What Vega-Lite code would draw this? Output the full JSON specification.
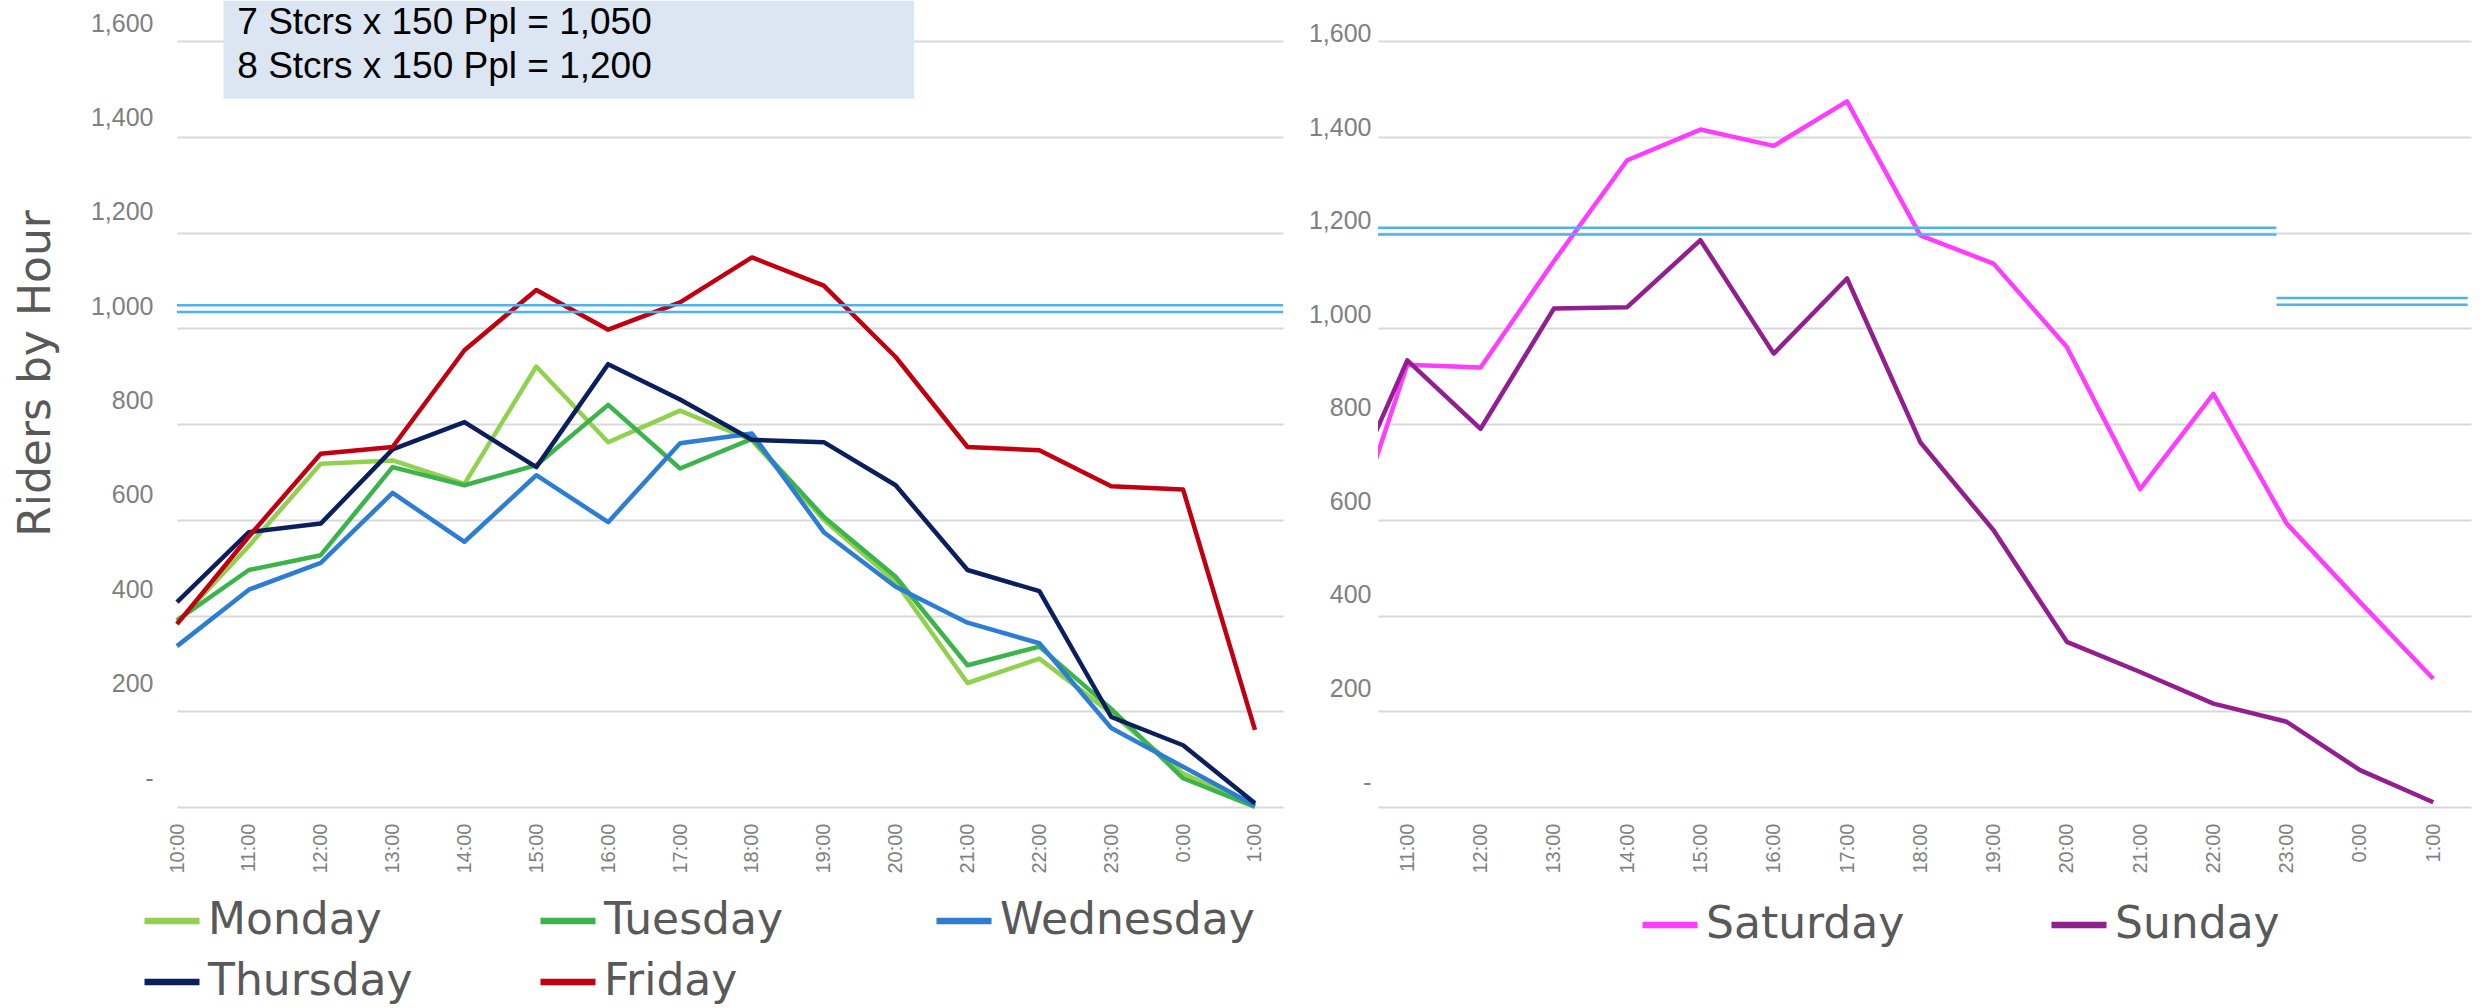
{
  "$schema": "https://vega.github.io/schema/vega-lite/v6.json",
  "padding": {"left": 14, "top": 0, "right": 5, "bottom": 0},
  "background": "white",
  "bounds": "flush",
  "spacing": 95,
  "resolve": {"scale": {"color": "independent", "x": "independent", "y": "independent"}},
  "config": {
    "view": {"stroke": null},
    "axisX": {
      "labelAngle": 270,
      "labelAlign": "right",
      "labelBaseline": "middle",
      "labelPadding": 16,
      "labelFont": "Liberation Sans",
      "labelFontSize": 20,
      "labelColor": "#808080",
      "labelOverlap": false,
      "labelFlush": false,
      "labelBound": false,
      "grid": false,
      "ticks": false,
      "domain": false,
      "title": null
    },
    "axisY": {
      "labelFont": "Liberation Sans",
      "labelFontSize": 25,
      "labelColor": "#808080",
      "labelFlush": false,
      "labelOverlap": false,
      "ticks": false,
      "domain": false,
      "grid": true,
      "gridColor": "#D9D9D9",
      "gridWidth": 2
    }
  },
  "datasets": {
    "weekday": [
      {"day": "Monday", "hour": 10, "riders": 385}, {"day": "Monday", "hour": 11, "riders": 545}, {"day": "Monday", "hour": 12, "riders": 717}, {"day": "Monday", "hour": 13, "riders": 724},
      {"day": "Monday", "hour": 14, "riders": 675}, {"day": "Monday", "hour": 15, "riders": 920}, {"day": "Monday", "hour": 16, "riders": 762}, {"day": "Monday", "hour": 17, "riders": 828},
      {"day": "Monday", "hour": 18, "riders": 766}, {"day": "Monday", "hour": 19, "riders": 600}, {"day": "Monday", "hour": 20, "riders": 470}, {"day": "Monday", "hour": 21, "riders": 259},
      {"day": "Monday", "hour": 22, "riders": 310}, {"day": "Monday", "hour": 23, "riders": 196}, {"day": "Monday", "hour": 24, "riders": 70}, {"day": "Monday", "hour": 25, "riders": 2},
      {"day": "Tuesday", "hour": 10, "riders": 390}, {"day": "Tuesday", "hour": 11, "riders": 495}, {"day": "Tuesday", "hour": 12, "riders": 526}, {"day": "Tuesday", "hour": 13, "riders": 710},
      {"day": "Tuesday", "hour": 14, "riders": 672}, {"day": "Tuesday", "hour": 15, "riders": 714}, {"day": "Tuesday", "hour": 16, "riders": 840}, {"day": "Tuesday", "hour": 17, "riders": 707},
      {"day": "Tuesday", "hour": 18, "riders": 769}, {"day": "Tuesday", "hour": 19, "riders": 606}, {"day": "Tuesday", "hour": 20, "riders": 481}, {"day": "Tuesday", "hour": 21, "riders": 296},
      {"day": "Tuesday", "hour": 22, "riders": 335}, {"day": "Tuesday", "hour": 23, "riders": 205}, {"day": "Tuesday", "hour": 24, "riders": 60}, {"day": "Tuesday", "hour": 25, "riders": 0},
      {"day": "Wednesday", "hour": 10, "riders": 336}, {"day": "Wednesday", "hour": 11, "riders": 454}, {"day": "Wednesday", "hour": 12, "riders": 510}, {"day": "Wednesday", "hour": 13, "riders": 656},
      {"day": "Wednesday", "hour": 14, "riders": 554}, {"day": "Wednesday", "hour": 15, "riders": 693}, {"day": "Wednesday", "hour": 16, "riders": 595}, {"day": "Wednesday", "hour": 17, "riders": 760},
      {"day": "Wednesday", "hour": 18, "riders": 780}, {"day": "Wednesday", "hour": 19, "riders": 574}, {"day": "Wednesday", "hour": 20, "riders": 460}, {"day": "Wednesday", "hour": 21, "riders": 385},
      {"day": "Wednesday", "hour": 22, "riders": 342}, {"day": "Wednesday", "hour": 23, "riders": 165}, {"day": "Wednesday", "hour": 24, "riders": 84}, {"day": "Wednesday", "hour": 25, "riders": 3},
      {"day": "Thursday", "hour": 10, "riders": 428}, {"day": "Thursday", "hour": 11, "riders": 574}, {"day": "Thursday", "hour": 12, "riders": 592}, {"day": "Thursday", "hour": 13, "riders": 747},
      {"day": "Thursday", "hour": 14, "riders": 804}, {"day": "Thursday", "hour": 15, "riders": 710}, {"day": "Thursday", "hour": 16, "riders": 925}, {"day": "Thursday", "hour": 17, "riders": 851},
      {"day": "Thursday", "hour": 18, "riders": 767}, {"day": "Thursday", "hour": 19, "riders": 762}, {"day": "Thursday", "hour": 20, "riders": 672}, {"day": "Thursday", "hour": 21, "riders": 495},
      {"day": "Thursday", "hour": 22, "riders": 451}, {"day": "Thursday", "hour": 23, "riders": 188}, {"day": "Thursday", "hour": 24, "riders": 129}, {"day": "Thursday", "hour": 25, "riders": 8},
      {"day": "Friday", "hour": 10, "riders": 382}, {"day": "Friday", "hour": 11, "riders": 565}, {"day": "Friday", "hour": 12, "riders": 738}, {"day": "Friday", "hour": 13, "riders": 752},
      {"day": "Friday", "hour": 14, "riders": 954}, {"day": "Friday", "hour": 15, "riders": 1080}, {"day": "Friday", "hour": 16, "riders": 997}, {"day": "Friday", "hour": 17, "riders": 1054},
      {"day": "Friday", "hour": 18, "riders": 1148}, {"day": "Friday", "hour": 19, "riders": 1089}, {"day": "Friday", "hour": 20, "riders": 940}, {"day": "Friday", "hour": 21, "riders": 752},
      {"day": "Friday", "hour": 22, "riders": 745}, {"day": "Friday", "hour": 23, "riders": 670}, {"day": "Friday", "hour": 24, "riders": 663}, {"day": "Friday", "hour": 25, "riders": 161}
    ],
    "weekend": [
      {"day": "Saturday", "hour": 10, "riders": 463}, {"day": "Saturday", "hour": 11, "riders": 924}, {"day": "Saturday", "hour": 12, "riders": 918}, {"day": "Saturday", "hour": 13, "riders": 1140},
      {"day": "Saturday", "hour": 14, "riders": 1351}, {"day": "Saturday", "hour": 15, "riders": 1415}, {"day": "Saturday", "hour": 16, "riders": 1381}, {"day": "Saturday", "hour": 17, "riders": 1474},
      {"day": "Saturday", "hour": 18, "riders": 1194}, {"day": "Saturday", "hour": 19, "riders": 1135}, {"day": "Saturday", "hour": 20, "riders": 961}, {"day": "Saturday", "hour": 21, "riders": 664},
      {"day": "Saturday", "hour": 22, "riders": 863}, {"day": "Saturday", "hour": 23, "riders": 592}, {"day": "Saturday", "hour": 24, "riders": 428}, {"day": "Saturday", "hour": 25, "riders": 268},
      {"day": "Sunday", "hour": 10, "riders": 585}, {"day": "Sunday", "hour": 11, "riders": 933}, {"day": "Sunday", "hour": 12, "riders": 790}, {"day": "Sunday", "hour": 13, "riders": 1041},
      {"day": "Sunday", "hour": 14, "riders": 1044}, {"day": "Sunday", "hour": 15, "riders": 1184}, {"day": "Sunday", "hour": 16, "riders": 947}, {"day": "Sunday", "hour": 17, "riders": 1104},
      {"day": "Sunday", "hour": 18, "riders": 762}, {"day": "Sunday", "hour": 19, "riders": 578}, {"day": "Sunday", "hour": 20, "riders": 345}, {"day": "Sunday", "hour": 21, "riders": 282},
      {"day": "Sunday", "hour": 22, "riders": 216}, {"day": "Sunday", "hour": 23, "riders": 178}, {"day": "Sunday", "hour": 24, "riders": 77}, {"day": "Sunday", "hour": 25, "riders": 10}
    ],
    "capacityWeekday": [
      {"from": 10, "to": 25.39, "riders": 1048},
      {"from": 10, "to": 25.39, "riders": 1034}
    ],
    "capacityWeekend": [
      {"from": 10.6, "to": 22.86, "riders": 1210},
      {"from": 10.6, "to": 22.86, "riders": 1196},
      {"from": 22.86, "to": 25.47, "riders": 1063},
      {"from": 22.86, "to": 25.47, "riders": 1049}
    ]
  },
  "hconcat": [
    {
      "width": 1106,
      "height": 766,
      "layer": [
        {
          "data": {"name": "weekday"},
          "mark": {"type": "line", "strokeWidth": 4.5, "strokeJoin": "round"},
          "encoding": {
            "x": {
              "field": "hour", "type": "quantitative",
              "scale": {"domain": [10, 25.39], "nice": false, "zero": false},
              "axis": {
                "values": [10, 11, 12, 13, 14, 15, 16, 17, 18, 19, 20, 21, 22, 23, 24, 25],
                "labelExpr": "(datum.value % 24) + ':00'",
                "title": null
              }
            },
            "y": {
              "field": "riders", "type": "quantitative",
              "scale": {"domain": [0, 1600], "nice": false},
              "axis": {
                "values": [0, 200, 400, 600, 800, 1000, 1200, 1400, 1600],
                "labelExpr": "datum.value == 0 ? '-  ' : format(datum.value, ',')",
                "labelPadding": 24, "labelOffset": {"expr": "-29 + 0.0069 * datum.value"},
                "title": "Riders by Hour", "titleFont": "DejaVu Sans", "titleFontSize": 44, "titleFontWeight": "normal",
                "titleColor": "#595959", "titleAngle": 270, "titleAlign": "center", "titleBaseline": "alphabetic",
                "titleX": -128, "titleY": 332
              }
            },
            "color": {
              "field": "day", "type": "nominal",
              "scale": {"domain": ["Monday", "Tuesday", "Wednesday", "Thursday", "Friday"], "range": ["#92D050", "#3CB44B", "#2D7DD2", "#0A1F5C", "#C00010"]},
              "legend": {
                "orient": "none", "legendX": -36, "legendY": 849, "direction": "horizontal", "columns": 3, "gridAlign": "all",
                "columnPadding": 64, "rowPadding": 8, "symbolType": "stroke", "symbolSize": 3025, "symbolStrokeWidth": 6.7,
                "labelFont": "DejaVu Sans", "labelFontSize": 44, "labelColor": "#595959", "labelOffset": 5, "labelLimit": 1000,
                "title": null, "padding": 0
              }
            }
          }
        },
        {
          "data": {"name": "capacityWeekday"},
          "mark": {"type": "rule", "color": "#4DB3EE", "strokeWidth": 2.5},
          "encoding": {
            "x": {"field": "from", "type": "quantitative"},
            "x2": {"field": "to"},
            "y": {"field": "riders", "type": "quantitative"}
          }
        },
        {
          "data": {"values": [{}]},
          "mark": {"type": "rect", "fill": "#DCE6F2"},
          "encoding": {
            "x": {"datum": 10.648, "type": "quantitative"},
            "x2": {"datum": 20.257},
            "y": {"datum": 1684, "type": "quantitative"},
            "y2": {"datum": 1479.5}
          }
        },
        {
          "data": {"values": [{}]},
          "mark": {"type": "text", "align": "left", "baseline": "alphabetic", "font": "Liberation Sans", "fontSize": 37, "lineHeight": 44, "color": "#000000"},
          "encoding": {
            "x": {"datum": 10.839, "type": "quantitative"},
            "y": {"datum": 1615, "type": "quantitative"},
            "text": {"value": ["7 Stcrs x 150 Ppl = 1,050", "8 Stcrs x 150 Ppl = 1,200"]}
          }
        }
      ]
    },
    {
      "width": 1093,
      "height": 766,
      "layer": [
        {
          "data": {"name": "weekend"},
          "mark": {"type": "line", "strokeWidth": 4.5, "strokeJoin": "round", "clip": true},
          "encoding": {
            "x": {
              "field": "hour", "type": "quantitative",
              "scale": {"domain": [10.6, 25.515], "nice": false, "zero": false},
              "axis": {
                "values": [10, 11, 12, 13, 14, 15, 16, 17, 18, 19, 20, 21, 22, 23, 24, 25],
                "labelExpr": "(datum.value % 24) + ':00'",
                "title": null
              }
            },
            "y": {
              "field": "riders", "type": "quantitative",
              "scale": {"domain": [0, 1600], "nice": false},
              "axis": {
                "values": [0, 200, 400, 600, 800, 1000, 1200, 1400, 1600],
                "labelExpr": "datum.value == 0 ? '-  ' : format(datum.value, ',')",
                "labelPadding": 7, "labelOffset": {"expr": "-25 + 0.011 * datum.value"}, "title": null
              }
            },
            "color": {
              "field": "day", "type": "nominal",
              "scale": {"domain": ["Saturday", "Sunday"], "range": ["#FF3DFF", "#921F8F"]},
              "legend": {
                "orient": "none", "legendX": 261, "legendY": 853, "direction": "horizontal", "columns": 2, "gridAlign": "all",
                "columnPadding": 133, "symbolType": "stroke", "symbolSize": 3025, "symbolStrokeWidth": 6.7,
                "labelFont": "DejaVu Sans", "labelFontSize": 44, "labelColor": "#595959", "labelOffset": 5, "labelLimit": 1000,
                "title": null, "padding": 0
              }
            }
          }
        },
        {
          "data": {"name": "capacityWeekend"},
          "mark": {"type": "rule", "color": "#4DB3EE", "strokeWidth": 2.5},
          "encoding": {
            "x": {"field": "from", "type": "quantitative"},
            "x2": {"field": "to"},
            "y": {"field": "riders", "type": "quantitative"}
          }
        }
      ]
    }
  ]
}
